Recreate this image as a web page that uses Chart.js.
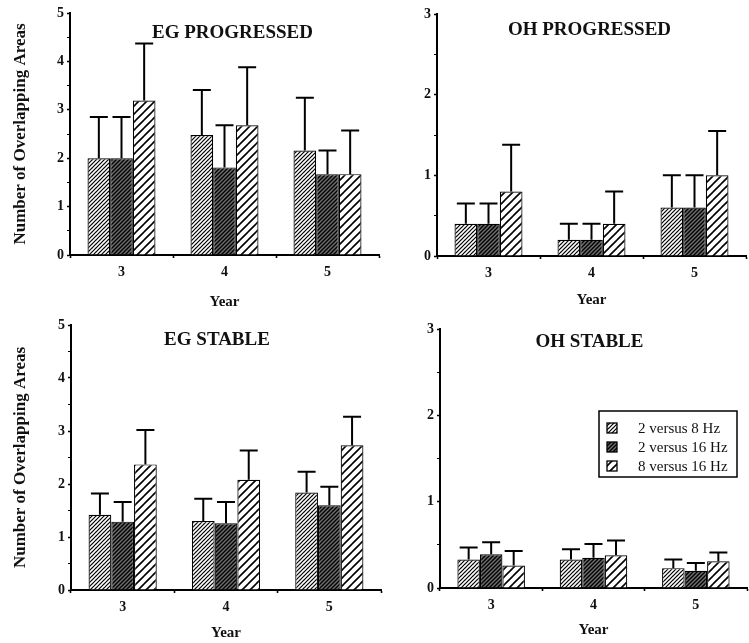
<!DOCTYPE html>
<html>
<head>
<meta charset="utf-8">
<script src="https://cdn.jsdelivr.net/npm/chart.js@4/dist/chart.umd.min.js"></script>
<style>
  html, body { margin: 0; padding: 0; background: #fff; }
  body { width: 749px; height: 643px; position: relative; overflow: hidden; }
  .panel { position: absolute; }
</style>
</head>
<body>
<div class="panel" style="left:0px;top:0px;width:385px;height:320px"><canvas id="c1" width="385" height="320"></canvas></div>
<div class="panel" style="left:385px;top:0px;width:364px;height:320px"><canvas id="c2" width="364" height="320"></canvas></div>
<div class="panel" style="left:0px;top:312px;width:385px;height:331px"><canvas id="c3" width="385" height="331"></canvas></div>
<div class="panel" style="left:385px;top:312px;width:364px;height:331px"><canvas id="c4" width="364" height="331"></canvas></div>
<script>
// ---------- DATA ----------
const categories = ['3', '4', '5'];
const seriesLabels = ['2 versus 8 Hz', '2 versus 16 Hz', '8 versus 16 Hz'];
const panelTitles = ['EG PROGRESSED', 'OH PROGRESSED', 'EG STABLE', 'OH STABLE'];
const xAxisTitle = 'Year';
const yAxisTitle = 'Number of Overlapping Areas';
const yMaxEG = 5;
const yMaxOH = 3;

// EG PROGRESSED: means and upward error (SD)
const egProgMean2v8  = [2.00, 2.48, 2.16];
const egProgErr2v8   = [0.85, 0.93, 1.09];
const egProgMean2v16 = [2.00, 1.81, 1.67];
const egProgErr2v16  = [0.85, 0.87, 0.49];
const egProgMean8v16 = [3.19, 2.68, 1.67];
const egProgErr8v16  = [1.18, 1.20, 0.90];

// OH PROGRESSED
const ohProgMean2v8  = [0.40, 0.20, 0.60];
const ohProgErr2v8   = [0.25, 0.20, 0.40];
const ohProgMean2v16 = [0.40, 0.20, 0.60];
const ohProgErr2v16  = [0.25, 0.20, 0.40];
const ohProgMean8v16 = [0.80, 0.40, 1.00];
const ohProgErr8v16  = [0.58, 0.40, 0.55];

// EG STABLE
const egStabMean2v8  = [1.42, 1.30, 1.84];
const egStabErr2v8   = [0.40, 0.42, 0.39];
const egStabMean2v16 = [1.29, 1.26, 1.60];
const egStabErr2v16  = [0.37, 0.40, 0.35];
const egStabMean8v16 = [2.37, 2.08, 2.73];
const egStabErr8v16  = [0.65, 0.55, 0.54];

// OH STABLE
const ohStabMean2v8  = [0.33, 0.33, 0.23];
const ohStabErr2v8   = [0.14, 0.12, 0.10];
const ohStabMean2v16 = [0.39, 0.35, 0.20];
const ohStabErr2v16  = [0.14, 0.16, 0.09];
const ohStabMean8v16 = [0.26, 0.38, 0.31];
const ohStabErr8v16  = [0.17, 0.17, 0.10];

// ---------- STYLE ----------
const SERIF = '"Liberation Serif", "DejaVu Serif", serif';
Chart.defaults.font.family = SERIF;
Chart.defaults.color = '#111';

function hatch(period, bg, lw) {
  const c = document.createElement('canvas');
  c.width = period; c.height = period;
  const x = c.getContext('2d');
  x.fillStyle = bg; x.fillRect(0, 0, period, period);
  x.strokeStyle = '#000'; x.lineWidth = lw; x.lineCap = 'square';
  x.beginPath();
  for (let k = -1; k <= 1; k++) {
    x.moveTo(k * period, period);
    x.lineTo(k * period + period, 0);
  }
  x.stroke();
  return x.createPattern(c, 'repeat');
}
const patterns = [hatch(4, '#ffffff', 1.2), hatch(4, '#6e6e6e', 1.4), hatch(8, '#ffffff', 1.6)];

const errorBarPlugin = {
  id: 'errorBars',
  afterDatasetsDraw(chart) {
    const ctx = chart.ctx;
    const ys = chart.scales.y;
    ctx.save();
    ctx.strokeStyle = '#000';
    ctx.lineWidth = 2;
    chart.data.datasets.forEach((ds, i) => {
      const meta = chart.getDatasetMeta(i);
      meta.data.forEach((el, j) => {
        const top = ys.getPixelForValue(ds.data[j] + ds.errors[j]);
        const half = 9;
        ctx.beginPath();
        ctx.moveTo(el.x, el.y);
        ctx.lineTo(el.x, top);
        ctx.moveTo(el.x - half, top);
        ctx.lineTo(el.x + half, top);
        ctx.stroke();
      });
    });
    ctx.restore();
  }
};

const panelTitlePlugin = {
  id: 'panelTitle',
  afterDraw(chart, args, opts) {
    if (!opts || !opts.text) return;
    const ctx = chart.ctx;
    const a = chart.chartArea;
    ctx.save();
    ctx.font = 'bold 19px ' + SERIF;
    ctx.fillStyle = '#111';
    ctx.textAlign = 'center';
    ctx.textBaseline = 'middle';
    ctx.fillText(opts.text, (a.left + a.right) / 2 + opts.dx, a.top + opts.dy);
    ctx.restore();
  }
};

const boxLegendPlugin = {
  id: 'boxLegend',
  afterDraw(chart, args, opts) {
    if (!opts || !opts.show) return;
    const ctx = chart.ctx;
    ctx.save();
    ctx.strokeStyle = '#000';
    ctx.lineWidth = 1.5;
    ctx.fillStyle = '#fff';
    ctx.fillRect(opts.x, opts.y, opts.w, opts.h);
    ctx.strokeRect(opts.x, opts.y, opts.w, opts.h);
    ctx.font = '15px ' + SERIF;
    ctx.textBaseline = 'middle';
    chart.data.datasets.forEach((ds, i) => {
      const cy = opts.y + opts.row0 + i * opts.rowGap;
      ctx.fillStyle = ds.backgroundColor;
      ctx.fillRect(opts.x + 8, cy - 5, 10, 10);
      ctx.lineWidth = 1.3;
      ctx.strokeRect(opts.x + 8, cy - 5, 10, 10);
      ctx.fillStyle = '#111';
      ctx.fillText(ds.label, opts.x + 39, cy + 1);
    });
    ctx.restore();
  }
};

function makeDatasets(means, errs) {
  return means.map((m, i) => ({
    label: seriesLabels[i],
    data: m,
    errors: errs[i],
    backgroundColor: patterns[i],
    borderColor: '#000',
    borderWidth: 1.2,
    barPercentage: 1.0,
    categoryPercentage: 0.66
  }));
}

function makeChart(id, cfg) {
  const yScale = {
    min: 0, max: cfg.yMax,
    ticks: {
      stepSize: 0.5, autoSkip: false, padding: 3,
      font: { size: 14, weight: 'bold' }, color: '#111',
      callback: v => Number.isInteger(v) ? String(v) : ''
    },
    grid: {
      drawOnChartArea: false, drawTicks: true, tickLength: 3,
      tickColor: '#000',
      tickWidth: c => (c.tick && Number.isInteger(c.tick.value)) ? 1.6 : 1.2
    },
    border: { display: true, color: '#000', width: 2 },
    title: cfg.yTitle ? {
      display: true, text: yAxisTitle,
      font: { size: 17, weight: 'bold' }, color: '#111',
      padding: { top: 10, bottom: 0 }
    } : { display: false },
    afterFit: s => { s.width = cfg.yWidth; }
  };
  const xScale = {
    ticks: { padding: 6, font: { size: 14, weight: 'bold' }, color: '#111' },
    grid: { offset: true, drawOnChartArea: false, drawTicks: true, tickLength: 3, tickColor: '#000', tickWidth: 1.6 },
    border: { display: true, color: '#000', width: 2 },
    title: { display: true, text: xAxisTitle, font: { size: 15, weight: 'bold' }, color: '#111',
      padding: { top: 0, bottom: cfg.xTitlePad } },
    afterFit: s => { s.height = cfg.xHeight; }
  };
  return new Chart(document.getElementById(id), {
    type: 'bar',
    data: { labels: categories, datasets: makeDatasets(cfg.means, cfg.errs) },
    options: {
      responsive: false, animation: false, devicePixelRatio: 1,
      layout: { padding: cfg.pad },
      scales: { x: xScale, y: yScale },
      plugins: {
        legend: { display: false },
        tooltip: { enabled: false },
        panelTitle: cfg.title,
        boxLegend: cfg.legend || { show: false }
      }
    },
    plugins: [errorBarPlugin, panelTitlePlugin, boxLegendPlugin]
  });
}

makeChart('c1', {
  yMax: yMaxEG, yTitle: true, yWidth: 70, xHeight: 60, xTitlePad: 4,
  pad: { left: 0, right: 6, top: 13, bottom: 5 },
  means: [egProgMean2v8, egProgMean2v16, egProgMean8v16],
  errs: [egProgErr2v8, egProgErr2v16, egProgErr8v16],
  title: { text: panelTitles[0], dx: 8, dy: 20 }
});
makeChart('c2', {
  yMax: yMaxOH, yTitle: false, yWidth: 52, xHeight: 60, xTitlePad: 7,
  pad: { left: 0, right: 3, top: 14, bottom: 4 },
  means: [ohProgMean2v8, ohProgMean2v16, ohProgMean8v16],
  errs: [ohProgErr2v8, ohProgErr2v16, ohProgErr8v16],
  title: { text: panelTitles[1], dx: -2, dy: 16 }
});
makeChart('c3', {
  yMax: yMaxEG, yTitle: true, yWidth: 71, xHeight: 53, xTitlePad: 1,
  pad: { left: 0, right: 4, top: 13, bottom: 0 },
  means: [egStabMean2v8, egStabMean2v16, egStabMean8v16],
  errs: [egStabErr2v8, egStabErr2v16, egStabErr8v16],
  title: { text: panelTitles[2], dx: -9, dy: 15 }
});
makeChart('c4', {
  yMax: yMaxOH, yTitle: false, yWidth: 55, xHeight: 55, xTitlePad: 4,
  pad: { left: 0, right: 2, top: 17, bottom: 0 },
  means: [ohStabMean2v8, ohStabMean2v16, ohStabMean8v16],
  errs: [ohStabErr2v8, ohStabErr2v16, ohStabErr8v16],
  title: { text: panelTitles[3], dx: -4, dy: 13 },
  legend: { show: true, x: 214, y: 99, w: 138, h: 66, row0: 17, rowGap: 19 }
});
</script>
</body>
</html>
